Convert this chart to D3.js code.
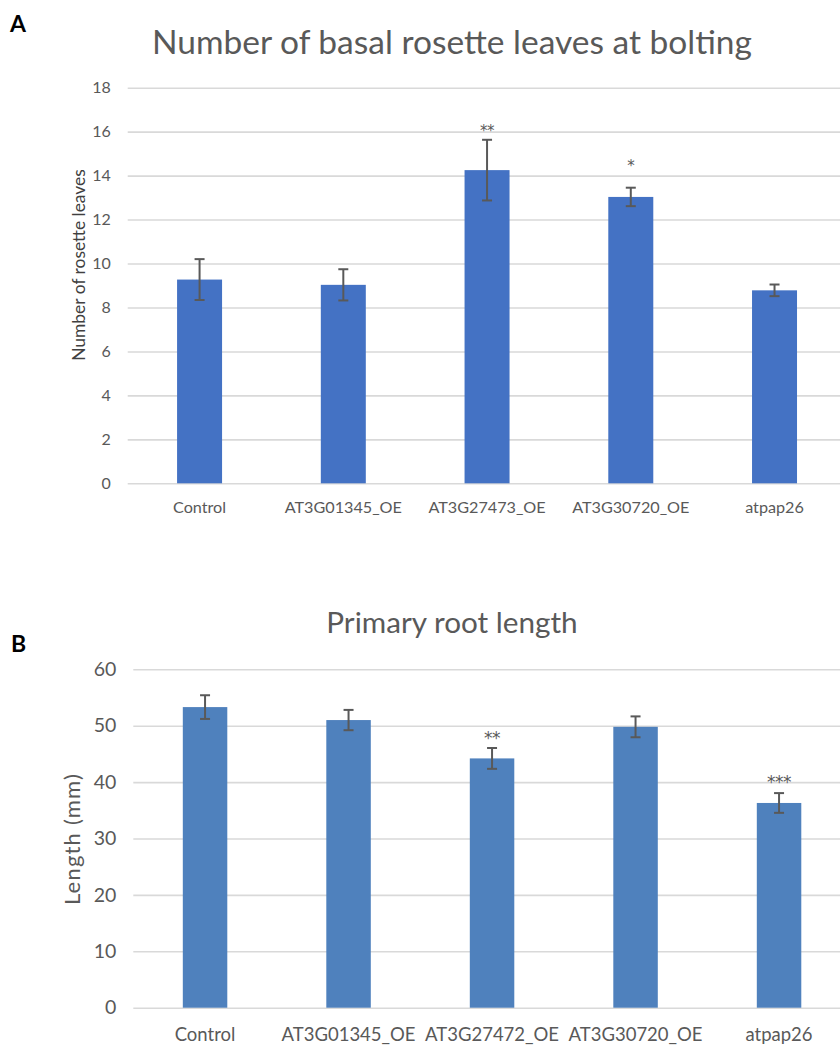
<!DOCTYPE html>
<html>
<head>
<meta charset="utf-8">
<script src="https://cdn.jsdelivr.net/npm/d3@7"></script>
<style>
  html, body { margin: 0; padding: 0; background: #fff; }
  svg { display: block; font-family: Lato, "Open Sans", sans-serif; }
</style>
</head>
<body>
<svg id="fig" width="840" height="1045"></svg>
<script>
// Panel A: rosette leaves at bolting
const leafCategories = ["Control", "AT3G01345_OE", "AT3G27473_OE", "AT3G30720_OE", "atpap26"];
const leafMeans = [9.27, 9.03, 14.25, 13.03, 8.78];
const leafErrors = [0.93, 0.71, 1.38, 0.42, 0.265];
const leafStars = ["", "", "**", "*", ""];
const leafStarLevels = [null, null, 16.2, 14.6, null];
const leafTicks = [0, 2, 4, 6, 8, 10, 12, 14, 16, 18];

// Panel B: primary root length
const rootCategories = ["Control", "AT3G01345_OE", "AT3G27472_OE", "AT3G30720_OE", "atpap26"];
const rootMeans = [53.3, 51.0, 44.2, 49.8, 36.3];
const rootErrors = [2.1, 1.8, 1.85, 1.85, 1.75];
const rootStars = ["", "", "**", "", "***"];
const rootStarLevels = [null, null, 48.65, null, 40.8];
const rootTicks = [0, 10, 20, 30, 40, 50, 60];

const svg = d3.select("#fig");
const GRID = "#d9d9d9", TEXT = "#595959", ERR = "#595959";

function drawPanel(o) {
  const g = svg.append("g");
  const x = d3.scaleBand().domain(o.categories).range([o.left, o.right]).padding(0);
  const y = d3.scaleLinear().domain([0, o.max]).range([o.bottom, o.top]);
  const bw = x.bandwidth() * o.barFrac;
  const cx = c => x(c) + x.bandwidth() / 2;

  // gridlines and tick labels from a left axis
  const axis = d3.axisLeft(y).tickValues(o.ticks)
    .tickSize(-(o.right - o.left)).tickPadding(o.tickPad);
  const ax = g.append("g").attr("transform", `translate(${o.left},0)`).call(axis);
  ax.select(".domain").remove();
  ax.selectAll(".tick line").attr("stroke", GRID).attr("stroke-width", 1.6);
  ax.selectAll(".tick text").attr("fill", TEXT).attr("font-size", o.tickFont)
    .attr("font-family", "Lato, sans-serif");

  // bars
  g.selectAll("rect.bar").data(o.categories).join("rect")
    .attr("class", "bar")
    .attr("x", c => cx(c) - bw / 2)
    .attr("width", bw)
    .attr("y", (c, i) => y(o.means[i]))
    .attr("height", (c, i) => y(0) - y(o.means[i]))
    .attr("fill", o.color);

  // error bars with caps
  const eb = g.selectAll("g.err").data(o.categories).join("g").attr("class", "err")
    .attr("stroke", ERR).attr("stroke-width", 2).attr("fill", "none");
  eb.append("line")
    .attr("x1", cx).attr("x2", cx)
    .attr("y1", (c, i) => y(o.means[i] + o.errors[i]))
    .attr("y2", (c, i) => y(o.means[i] - o.errors[i]));
  [1, -1].forEach(s => {
    eb.append("line")
      .attr("x1", c => cx(c) - 5).attr("x2", c => cx(c) + 5)
      .attr("y1", (c, i) => y(o.means[i] + s * o.errors[i]))
      .attr("y2", (c, i) => y(o.means[i] + s * o.errors[i]));
  });

  // significance asterisks
  const sig = o.categories.map((c, i) => ({ c, s: o.stars[i], v: o.starLevels[i] })).filter(d => d.s);
  g.selectAll("text.sig").data(sig).join("text").attr("class", "sig")
    .attr("x", d => cx(d.c))
    .attr("y", d => y(d.v) + o.starFont * 0.6)
    .attr("text-anchor", "middle")
    .attr("fill", TEXT)
    .attr("font-family", "DejaVu Sans, sans-serif")
    .attr("font-size", o.starFont)
    .attr("letter-spacing", -0.5)
    .text(d => d.s);

  // category labels
  g.selectAll("text.cat").data(o.categories).join("text").attr("class", "cat")
    .attr("x", cx).attr("y", o.catY)
    .attr("text-anchor", "middle").attr("fill", TEXT)
    .attr("font-size", o.catFont)
    .text(c => c);

  // chart title
  g.append("text").attr("x", o.titleX).attr("y", o.titleY)
    .attr("text-anchor", "middle").attr("fill", TEXT)
    .attr("font-size", o.titleFont).text(o.title);

  // y axis title
  g.append("text")
    .attr("transform", `translate(${o.yTitleX},${o.yTitleY}) rotate(-90)`)
    .attr("text-anchor", "middle").attr("fill", o.yTitleColor)
    .attr("font-size", o.yTitleFont)
    .attr("letter-spacing", o.yTitleSpacing)
    .text(o.yTitle);

  // panel letter
  g.append("text").attr("x", o.letterX).attr("y", o.letterY)
    .attr("fill", "#000").attr("font-weight", "bold").attr("font-size", 23)
    .text(o.letter);
}

drawPanel({
  categories: leafCategories, means: leafMeans, errors: leafErrors,
  stars: leafStars, starLevels: leafStarLevels, ticks: leafTicks, max: 18,
  left: 127.7, right: 846.4, top: 87.7, bottom: 483.3, barFrac: 0.313,
  color: "#4472c4", tickFont: 16, tickPad: 17, catFont: 16.2, catY: 512.5,
  starFont: 15,
  title: "Number of basal rosette leaves at bolting", titleX: 452, titleY: 54, titleFont: 33.5,
  yTitle: "Number of rosette leaves", yTitleX: 85, yTitleY: 265, yTitleFont: 17.4,
  yTitleSpacing: 0, yTitleColor: "#404040",
  letter: "A", letterX: 10, letterY: 31.5
});

drawPanel({
  categories: rootCategories, means: rootMeans, errors: rootErrors,
  stars: rootStars, starLevels: rootStarLevels, ticks: rootTicks, max: 60,
  left: 133.3, right: 850.8, top: 669.3, bottom: 1007.7, barFrac: 0.31,
  color: "#4f81bd", tickFont: 19.5, tickPad: 17, catFont: 18.5, catY: 1041,
  starFont: 17,
  title: "Primary root length", titleX: 452, titleY: 633, titleFont: 29.7,
  yTitle: "Length (mm)", yTitleX: 80, yTitleY: 839, yTitleFont: 22,
  yTitleSpacing: 1.2, yTitleColor: TEXT,
  letter: "B", letterX: 11, letterY: 652
});
</script>
</body>
</html>
